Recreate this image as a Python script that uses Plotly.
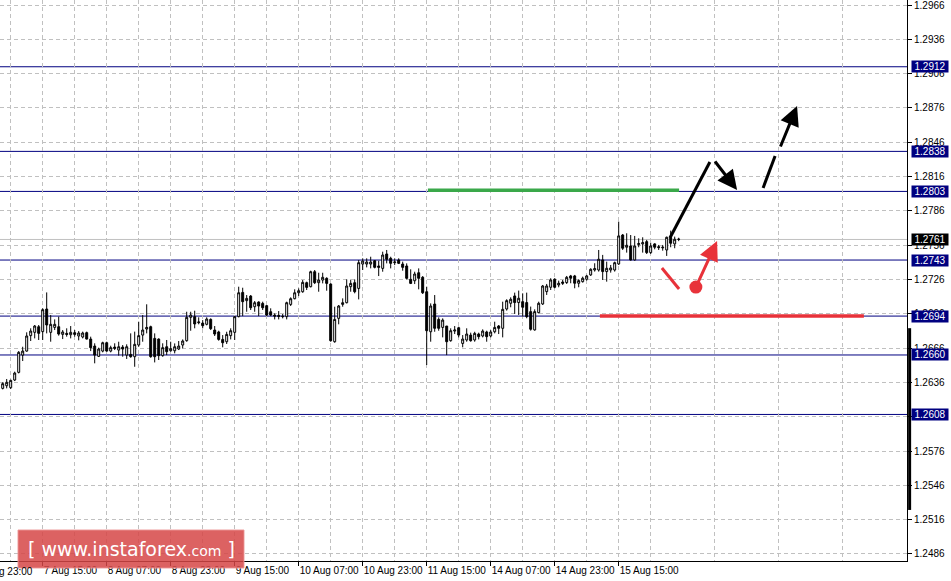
import plotly.graph_objects as go

# ---------------- data (hourly GBP/USD candles) ----------------
open_ = [1.26308,1.26331,1.26314,1.26381,1.26448,1.26599,1.26634,1.26769,1.26798,1.26847,
1.26804,1.27002,1.26798,1.26841,1.26847,1.26780,1.26789,1.26777,1.26795,1.26766,
1.26757,1.26795,1.26739,1.26678,1.26588,1.26634,1.26707,1.26634,1.26669,1.26643,
1.26669,1.26599,1.26605,1.26585,1.26687,1.26774,1.26827,1.26847,1.26745,1.26739,
1.26594,1.26672,1.26637,1.26637,1.26652,1.26687,1.26725,1.26929,1.26935,1.26882,
1.26879,1.26868,1.26911,1.26818,1.26801,1.26736,1.26716,1.26769,1.26798,1.26935,
1.27147,1.27075,1.27115,1.27022,1.27063,1.27051,1.27031,1.26978,1.26949,1.26946,
1.26935,1.26935,1.27042,1.27092,1.27144,1.27153,1.27232,1.27197,1.27328,1.27232,
1.27255,1.27270,1.27220,1.26716,1.26920,1.27042,1.27057,1.27197,1.27232,1.27182,
1.27395,1.27395,1.27395,1.27424,1.27378,1.27357,1.27483,1.27445,1.27407,1.27430,
1.27395,1.27378,1.27261,1.27249,1.27319,1.27279,1.27153,1.26803,1.27045,1.26911,
1.26841,1.26853,1.26725,1.26809,1.26838,1.26701,1.26731,1.26774,1.26731,1.26783,
1.26766,1.26801,1.26766,1.26803,1.26853,1.26833,1.27002,1.27052,1.27116,1.27058,
1.27066,1.27058,1.26979,1.26819,1.26970,1.27046,1.27154,1.27192,1.27262,1.27212,
1.27238,1.27233,1.27291,1.27291,1.27227,1.27241,1.27262,1.27300,1.27343,1.27343,
1.27431,1.27329,1.27343,1.27343,1.27396,1.27649,1.27542,1.27553,1.27431,1.27565,
1.27571,1.27591,1.27495,1.27571,1.27547,1.27536,1.27518,1.27626,1.27571,1.27610]

high = [1.26361,1.26390,1.26384,1.26454,1.26634,1.26672,1.26798,1.26833,1.26862,1.26862,
1.27008,1.27147,1.26949,1.26911,1.26935,1.26818,1.26833,1.26853,1.26818,1.26809,
1.26804,1.26804,1.26760,1.26702,1.26664,1.26716,1.26716,1.26681,1.26702,1.26716,
1.26687,1.26693,1.26789,1.26804,1.26891,1.26949,1.27043,1.26856,1.26789,1.26745,
1.26702,1.26731,1.26716,1.26701,1.26722,1.26736,1.26978,1.26978,1.26987,1.26929,
1.26905,1.26929,1.26920,1.26853,1.26812,1.26774,1.26803,1.26833,1.26940,1.27197,
1.27188,1.27124,1.27124,1.27072,1.27069,1.27066,1.27037,1.27008,1.26964,1.26984,
1.26958,1.27066,1.27104,1.27174,1.27182,1.27255,1.27241,1.27337,1.27343,1.27319,
1.27319,1.27279,1.27226,1.27022,1.27037,1.27095,1.27261,1.27255,1.27261,1.27430,
1.27445,1.27445,1.27459,1.27430,1.27424,1.27503,1.27518,1.27459,1.27445,1.27445,
1.27416,1.27401,1.27349,1.27328,1.27357,1.27290,1.27197,1.27051,1.27124,1.26929,
1.26920,1.26853,1.26833,1.26853,1.26847,1.26774,1.26833,1.26795,1.26803,1.26795,
1.26824,1.26812,1.26818,1.26891,1.26862,1.27066,1.27087,1.27104,1.27145,1.27163,
1.27139,1.27145,1.27023,1.26999,1.27066,1.27212,1.27221,1.27271,1.27271,1.27250,
1.27256,1.27291,1.27300,1.27300,1.27262,1.27285,1.27300,1.27358,1.27402,1.27518,
1.27475,1.27416,1.27387,1.27416,1.27766,1.27658,1.27664,1.27649,1.27641,1.27620,
1.27629,1.27606,1.27582,1.27577,1.27562,1.27562,1.27635,1.27687,1.27635,1.27625]

low = [1.26299,1.26308,1.26302,1.26372,1.26439,1.26547,1.26629,1.26722,1.26745,1.26731,
1.26731,1.26789,1.26716,1.26818,1.26769,1.26739,1.26760,1.26745,1.26760,1.26728,
1.26745,1.26736,1.26634,1.26527,1.26582,1.26623,1.26629,1.26623,1.26643,1.26594,
1.26585,1.26565,1.26576,1.26497,1.26672,1.26716,1.26789,1.26576,1.26535,1.26556,
1.26585,1.26599,1.26629,1.26614,1.26643,1.26658,1.26716,1.26812,1.26833,1.26868,
1.26833,1.26859,1.26818,1.26766,1.26725,1.26667,1.26696,1.26736,1.26731,1.26929,
1.26940,1.26978,1.26993,1.26978,1.26940,1.26993,1.26940,1.26940,1.26911,1.26911,
1.26920,1.26911,1.27028,1.27086,1.27115,1.27144,1.27168,1.27191,1.27220,1.27153,
1.27226,1.27162,1.26716,1.26707,1.26868,1.27022,1.27051,1.27153,1.27139,1.27086,
1.27343,1.27366,1.27357,1.27357,1.27290,1.27328,1.27401,1.27357,1.27386,1.27395,
1.27337,1.27261,1.27220,1.27220,1.27174,1.27133,1.26512,1.26716,1.26803,1.26812,
1.26754,1.26599,1.26716,1.26783,1.26754,1.26667,1.26716,1.26716,1.26716,1.26736,
1.26754,1.26716,1.26754,1.26789,1.26783,1.26754,1.26988,1.27017,1.26959,1.26950,
1.26935,1.26921,1.26813,1.26813,1.26964,1.27037,1.27125,1.27168,1.27183,1.27192,
1.27212,1.27221,1.27227,1.27183,1.27192,1.27233,1.27250,1.27291,1.27329,1.27329,
1.27256,1.27241,1.27320,1.27329,1.27387,1.27518,1.27495,1.27425,1.27425,1.27542,
1.27495,1.27483,1.27483,1.27524,1.27518,1.27512,1.27466,1.27542,1.27533,1.27595]

close = [1.26349,1.26361,1.26378,1.26442,1.26623,1.26634,1.26766,1.26809,1.26853,1.26789,
1.26996,1.26862,1.26868,1.26868,1.26783,1.26801,1.26780,1.26798,1.26780,1.26792,
1.26792,1.26739,1.26664,1.26599,1.26652,1.26707,1.26634,1.26664,1.26658,1.26672,
1.26652,1.26672,1.26585,1.26693,1.26769,1.26818,1.26841,1.26585,1.26585,1.26594,
1.26664,1.26629,1.26655,1.26672,1.26678,1.26722,1.26929,1.26949,1.26871,1.26888,
1.26856,1.26914,1.26830,1.26783,1.26736,1.26707,1.26780,1.26812,1.26935,1.27144,
1.27066,1.27095,1.27013,1.27057,1.27028,1.27013,1.26949,1.26949,1.26940,1.26938,
1.26938,1.27057,1.27092,1.27144,1.27162,1.27235,1.27191,1.27328,1.27232,1.27255,
1.27279,1.27226,1.26725,1.26911,1.27028,1.27057,1.27203,1.27226,1.27153,1.27407,
1.27421,1.27413,1.27413,1.27366,1.27366,1.27474,1.27436,1.27401,1.27413,1.27401,
1.27366,1.27270,1.27226,1.27308,1.27270,1.27144,1.26812,1.27028,1.26833,1.26833,
1.26905,1.26716,1.26812,1.26818,1.26774,1.26739,1.26783,1.26725,1.26789,1.26760,
1.26809,1.26760,1.26801,1.26841,1.26833,1.26999,1.27075,1.27087,1.27058,1.27096,
1.27017,1.26935,1.26825,1.26979,1.27052,1.27203,1.27203,1.27256,1.27192,1.27227,
1.27227,1.27279,1.27271,1.27227,1.27250,1.27271,1.27291,1.27349,1.27355,1.27437,
1.27329,1.27358,1.27361,1.27407,1.27641,1.27533,1.27559,1.27431,1.27553,1.27574,
1.27582,1.27495,1.27553,1.27542,1.27539,1.27542,1.27629,1.27577,1.27612,1.27612]

bar_index = list(range(len(close)))

# time axis labels (bar index -> label)
tick_index = [10, 26, 42, 58, 74, 90, 106, 122, 138, 154]
tick_text = ["7 Aug 15:00", "8 Aug 07:00", "8 Aug 23:00", "9 Aug 15:00", "10 Aug 07:00",
             "10 Aug 23:00", "11 Aug 15:00", "14 Aug 07:00", "14 Aug 23:00", "15 Aug 15:00"]
first_label = "6 Aug 23:00"
grid_minor_index = [2, 18, 34, 50, 66, 82, 98, 114, 130, 146, 162, 178, 194, 210, 226]

# price axis
price_ticks = [1.2486, 1.2516, 1.2546, 1.2576, 1.2606, 1.2636, 1.2666, 1.2696, 1.2726,
               1.2756, 1.2786, 1.2816, 1.2846, 1.2876, 1.2906, 1.2936, 1.2966]
levels = [1.2912, 1.2838, 1.2803, 1.2743, 1.2694, 1.2660, 1.2608]
current_price = 1.2761

# analysis drawings (bar index, price)
green_line = dict(x=[106.3, 169.1], y=[1.2804, 1.2804])
red_line = dict(x=[149.3, 215.3], y=[1.2694, 1.2694])
black_leg = dict(x=[166.8, 176.8], y=[1.27623, 1.28287])
black_arrow = dict(x0=177.8, y0=1.28305, x1=183.6, y1=1.28042)
dash_leg = dict(x=[190.1, 193.1], y=[1.2806, 1.2834])
dash_arrow = dict(x0=194.3, y0=1.2841, x1=198.6, y1=1.28777)
red_leg = dict(x=[164.8, 169.1], y=[1.2736, 1.27177])
red_dot = dict(x=[173.3], y=[1.27194])
red_arrow = dict(x0=173.3, y0=1.27194, x1=178.6, y1=1.27596)

x_range = [-0.675, 226.08]
y_range = [1.247986, 1.297037]

NAVY = "#000080"
GRID = "#c0c0c0"
RED = "#e8323a"
GREEN = "#3aa84a"
FONT = "Liberation Sans"

fig = go.Figure()

fig.add_trace(go.Candlestick(
    x=bar_index, open=open_, high=high, low=low, close=close,
    increasing=dict(line=dict(color="black", width=1), fillcolor="white"),
    decreasing=dict(line=dict(color="black", width=1), fillcolor="black"),
    whiskerwidth=0, hoverinfo="skip", showlegend=False))

# drawing lines
for seg, col, w in [(green_line, GREEN, 3.5), (red_line, RED, 3.5),
                    (black_leg, "black", 3), (dash_leg, "black", 3), (red_leg, RED, 3)]:
    fig.add_trace(go.Scatter(x=seg["x"], y=seg["y"], mode="lines",
                             line=dict(color=col, width=w),
                             hoverinfo="skip", showlegend=False))

fig.add_trace(go.Scatter(x=red_dot["x"], y=red_dot["y"], mode="markers",
                         marker=dict(color=RED, size=13, line=dict(width=0)),
                         hoverinfo="skip", showlegend=False))

annotations = []
for arr, col in [(black_arrow, "black"), (dash_arrow, "black"), (red_arrow, RED)]:
    annotations.append(dict(x=arr["x1"], y=arr["y1"], ax=arr["x0"], ay=arr["y0"],
                            xref="x", yref="y", axref="x", ayref="y", text="",
                            showarrow=True, arrowhead=2, arrowsize=1.3, arrowwidth=3,
                            arrowcolor=col, standoff=0, startstandoff=0))

shapes = []
for lv in levels:
    shapes.append(dict(type="line", xref="paper", x0=0, x1=1, yref="y", y0=lv, y1=lv,
                       line=dict(color=NAVY, width=1), layer="below"))
shapes.append(dict(type="line", xref="paper", x0=0, x1=1, yref="y", y0=current_price,
                   y1=current_price, line=dict(color=GRID, width=1), layer="below"))

# price label boxes on the right axis
for lv in levels:
    annotations.append(dict(xref="paper", x=1, xanchor="left", xshift=4, yref="y", y=lv,
                            yanchor="middle", text=f"{lv:.4f}", showarrow=False,
                            font=dict(family=FONT, size=10, color="white"),
                            bgcolor=NAVY, width=34, height=9, borderpad=1, align="center"))
annotations.append(dict(xref="paper", x=1, xanchor="left", xshift=4, yref="y", y=current_price,
                        yanchor="middle", text=f"{current_price:.4f}", showarrow=False,
                        font=dict(family=FONT, size=10, color="white"),
                        bgcolor="black", width=34, height=9, borderpad=1, align="center"))

# first (cut) time label
annotations.append(dict(xref="paper", x=0, xanchor="left", xshift=-23, yref="paper", y=0,
                        yanchor="top", yshift=-3, text=first_label, showarrow=False,
                        font=dict(family=FONT, size=10, color="black")))

# scrollbar-like black bar at the right axis
shapes.append(dict(type="line", xref="paper", x0=1.0029, x1=1.0029, yref="paper",
                   y0=0.091, y1=0.415, line=dict(color="black", width=3)))

# watermark
shapes.append(dict(type="rect", xref="paper", yref="paper", x0=18/907, x1=244/907,
                   y0=1-568/561, y1=1-530/561, fillcolor="rgba(214,70,70,0.85)",
                   line=dict(color="rgba(235,150,150,0.9)", width=1), layer="above"))
annotations.append(dict(xref="paper", yref="paper", x=131/907, y=1-549/561,
                        xanchor="center", yanchor="middle", showarrow=False,
                        text="[ <span style='font-size:19px'>www.instaforex</span>"
                             "<span style='font-size:14px'>.com</span> ]",
                        font=dict(family="DejaVu Sans", size=19, color="white")))

fig.update_layout(
    width=951, height=581,
    margin=dict(l=0, r=44, t=0, b=20, autoexpand=False),
    paper_bgcolor="white", plot_bgcolor="white",
    showlegend=False, boxgap=0.3,
    shapes=shapes, annotations=annotations,
    hovermode=False,
)

fig.update_xaxes(
    range=x_range, rangeslider=dict(visible=False), automargin=False,
    tickmode="array", tickvals=tick_index, ticktext=tick_text, tickangle=0,
    ticks="outside", ticklen=4, tickcolor="black", tickwidth=1,
    ticklabelposition="outside right",
    tickfont=dict(family=FONT, size=10, color="black"),
    showgrid=True, gridcolor=GRID, griddash="4px,3px", gridwidth=1,
    minor=dict(tickmode="array", tickvals=grid_minor_index, showgrid=True,
               gridcolor=GRID, griddash="4px,3px", ticks=""),
    showline=True, linecolor="black", linewidth=1, zeroline=False, fixedrange=True,
)
fig.update_yaxes(
    range=y_range, side="right", automargin=False, ticklabeloverflow="allow",
    tickmode="array", tickvals=price_ticks, ticktext=[f"{v:.4f}" for v in price_ticks],
    ticks="outside", ticklen=4, tickcolor="black",
    tickfont=dict(family=FONT, size=10, color="black"),
    showgrid=True, gridcolor=GRID, griddash="4px,3px", gridwidth=1,
    showline=True, linecolor="black", linewidth=1, zeroline=False, fixedrange=True,
)

fig.write_html("out.html", config={"displayModeBar": False},
               post_script="document.body.style.margin='0';document.body.style.overflow='hidden';")
